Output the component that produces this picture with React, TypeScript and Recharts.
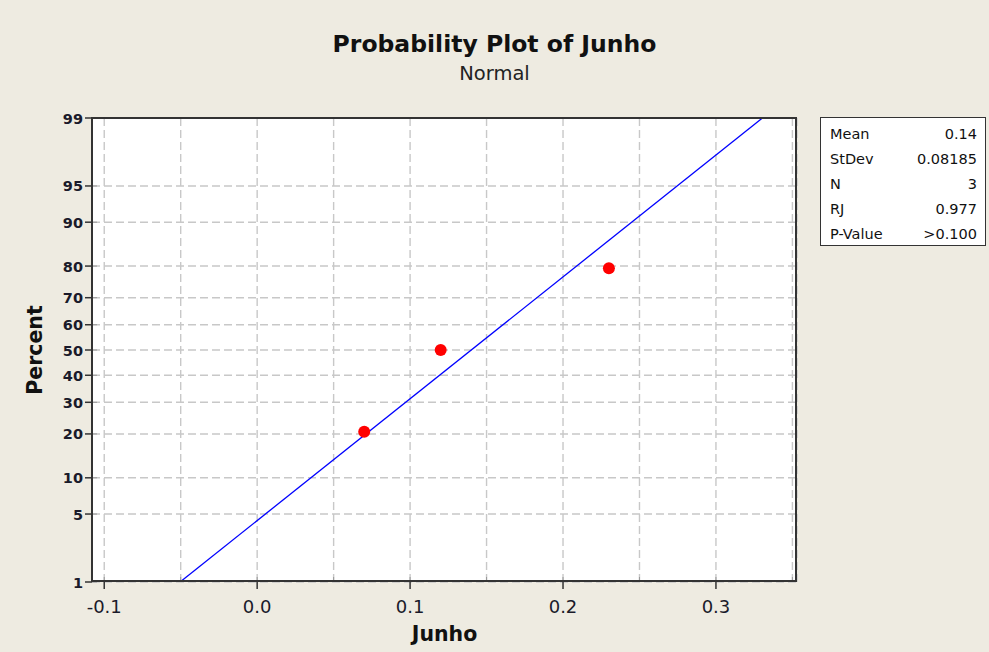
import React from 'react';
import { ScatterChart, Scatter, XAxis, YAxis, CartesianGrid } from 'recharts';

// observed values and their median-rank percents
const junhoValues = [0.07, 0.12, 0.23];
const junhoPercents = [20.6, 50, 79.4];

// fitted normal line end points (1% and 99%)
const fitValues = [-0.0504, 0.3304];
const fitPercents = [1, 99];

const xTicks = [-0.1, -0.05, 0, 0.05, 0.1, 0.15, 0.2, 0.25, 0.3, 0.35];
const xTickLabels = ['-0.1', '', '0.0', '', '0.1', '', '0.2', '', '0.3', ''];
const yTickPercents = [1, 5, 10, 20, 30, 40, 50, 60, 70, 80, 90, 95, 99];

const statNames = ['Mean', 'StDev', 'N', 'RJ', 'P-Value'];
const statValues = ['0.14', '0.08185', '3', '0.977', '>0.100'];

const FONT = "'DejaVu Sans', Verdana, sans-serif";
const BG = '#EEEBE1';

// inverse of the standard normal cdf (Acklam), used for the probability scale
function qnorm(p: number): number {
  const a = [-39.69683028665376, 220.9460984245205, -275.9285104469687, 138.357751867269, -30.66479806614716, 2.506628277459239];
  const b = [-54.47609879822406, 161.5858368580409, -155.6989798598866, 66.80131188771972, -13.28068155288572];
  const c = [-0.007784894002430293, -0.3223964580411365, -2.400758277161838, -2.549732539343734, 4.374664141464968, 2.938163982698783];
  const d = [0.007784695709041462, 0.3224671290700398, 2.445134137142996, 3.754408661907416];
  const pl = 0.02425;
  if (p < pl) {
    const q = Math.sqrt(-2 * Math.log(p));
    return (((((c[0] * q + c[1]) * q + c[2]) * q + c[3]) * q + c[4]) * q + c[5]) / ((((d[0] * q + d[1]) * q + d[2]) * q + d[3]) * q + 1);
  }
  if (p > 1 - pl) {
    const q = Math.sqrt(-2 * Math.log(1 - p));
    return -(((((c[0] * q + c[1]) * q + c[2]) * q + c[3]) * q + c[4]) * q + c[5]) / ((((d[0] * q + d[1]) * q + d[2]) * q + d[3]) * q + 1);
  }
  const q = p - 0.5;
  const r = q * q;
  return ((((((a[0] * r + a[1]) * r + a[2]) * r + a[3]) * r + a[4]) * r + a[5]) * q) / (((((b[0] * r + b[1]) * r + b[2]) * r + b[3]) * r + b[4]) * r + 1);
}

const toZ = (pct: number) => qnorm(pct / 100);
const yTicksZ = yTickPercents.map(toZ);
const zMin = toZ(1);
const zMax = toZ(99);

const points = junhoValues.map((x, i) => ({ x, z: toZ(junhoPercents[i]) }));
const fitLine = fitValues.map((x, i) => ({ x, z: toZ(fitPercents[i]) }));

const XTick = (props: any) => {
  const { x, y, index } = props;
  const label = xTickLabels[index];
  return (
    <g>
      <line x1={x} x2={x} y1={y} y2={y - 5} stroke="#999" strokeWidth={1} />
      {label !== '' && (
        <>
          <line x1={x} x2={x} y1={y} y2={y + 7} stroke="#333" strokeWidth={1.5} />
          <text x={x} y={y + 31} textAnchor="middle" fontFamily={FONT} fontSize={18} fill="#1a1a2a">
            {label}
          </text>
        </>
      )}
    </g>
  );
};

const YTick = (props: any) => {
  const { x, y, index } = props;
  return (
    <g>
      <line x1={x} x2={x - 7} y1={y} y2={y} stroke="#333" strokeWidth={1.5} />
      <line x1={x} x2={x + 5} y1={y} y2={y} stroke="#999" strokeWidth={1} />
      <text x={x - 9} y={y + 5.5} textAnchor="end" fontFamily={FONT} fontSize={14.5} fontWeight="bold" fill="#1a1a2a">
        {yTickPercents[index]}
      </text>
    </g>
  );
};

const Dot = (props: any) => <circle cx={props.cx} cy={props.cy} r={6} fill="#FF0000" />;
const NoDot = () => <g />;

export default function App() {
  return (
    <div style={{ position: 'absolute', left: 0, top: 0, width: 989, height: 652, background: BG, fontFamily: FONT }}>
      <div style={{ position: 'absolute', left: 0, width: 989, top: 30, textAlign: 'center', fontSize: 23.5, fontWeight: 'bold', color: '#111' }}>
        Probability Plot of Junho
      </div>
      <div style={{ position: 'absolute', left: 0, width: 989, top: 62, textAlign: 'center', fontSize: 19.5, color: '#222' }}>
        Normal
      </div>
      <div
        style={{
          position: 'absolute',
          left: 35,
          top: 350,
          transform: 'translate(-50%, -50%) rotate(-90deg)',
          fontSize: 20.5,
          fontWeight: 'bold',
          color: '#111',
          whiteSpace: 'nowrap',
        }}
      >
        Percent
      </div>
      <div style={{ position: 'absolute', left: 92, width: 705, top: 622, textAlign: 'center', fontSize: 20.5, fontWeight: 'bold', color: '#111' }}>
        Junho
      </div>

      <ScatterChart width={989} height={652} margin={{ top: 118, right: 192, bottom: 0, left: 0 }} style={{ position: 'absolute', left: 0, top: 0 }}>
        <CartesianGrid fill="#FFFFFF" stroke="#C8C8C8" strokeDasharray="8 4" strokeWidth={1.4} />
        <XAxis
          type="number"
          dataKey="x"
          domain={[-0.108, 0.353]}
          ticks={xTicks}
          interval={0}
          allowDataOverflow
          height={70}
          tickSize={0}
          tickMargin={0}
          axisLine={false}
          tickLine={false}
          tick={<XTick />}
        />
        <YAxis
          type="number"
          dataKey="z"
          domain={[zMin, zMax]}
          ticks={yTicksZ}
          interval={0}
          allowDataOverflow
          width={92}
          tickSize={0}
          tickMargin={0}
          axisLine={false}
          tickLine={false}
          tick={<YTick />}
        />
        <Scatter data={fitLine} line={{ stroke: '#0000FF', strokeWidth: 1.3 }} shape={<NoDot />} isAnimationActive={false} />
        <Scatter data={points} shape={<Dot />} isAnimationActive={false} />
      </ScatterChart>

      <div style={{ position: 'absolute', left: 91, top: 117, width: 706, height: 465, border: '2px solid #333', boxSizing: 'border-box', pointerEvents: 'none' }} />

      <div
        style={{
          position: 'absolute',
          left: 820,
          top: 117,
          width: 166,
          height: 129,
          background: '#fff',
          border: '1.5px solid #333',
          boxSizing: 'border-box',
          padding: '4px 8px 0 9px',
          fontSize: 14.5,
          color: '#111',
        }}
      >
        {statNames.map((n, i) => (
          <div key={n} style={{ display: 'flex', justifyContent: 'space-between', height: 25, lineHeight: '25px' }}>
            <span>{n}</span>
            <span>{statValues[i]}</span>
          </div>
        ))}
      </div>
    </div>
  );
}
